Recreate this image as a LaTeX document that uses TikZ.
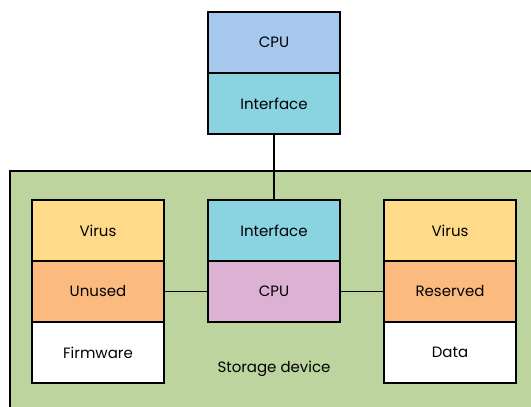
\documentclass[tikz,border=0pt]{standalone}
\usepackage{fontspec}
\setmainfont{Poppins}
\usetikzlibrary{positioning}
\definecolor{cpublue}{HTML}{A5C8EC}
\definecolor{ifcyan}{HTML}{8AD3E0}
\definecolor{virusyellow}{HTML}{FFDB89}
\definecolor{spareorange}{HTML}{FBBA7E}
\definecolor{devpink}{HTML}{DDB1D4}
\definecolor{storagegreen}{HTML}{BDD49E}
\begin{document}
\begin{tikzpicture}[x=1pt,y=-1pt,
  block/.style={draw=black,line width=1.1pt,outer sep=0pt,inner sep=0pt,
    minimum width=132pt,minimum height=61pt,font=\fontsize{15}{18}\selectfont},
  link/.style={line width=1.1pt}]
  \useasboundingbox (0,0) rectangle (531,407);
  % storage device
  \fill[storagegreen] (10,171) rectangle (545,420);
  \draw[link] (545,171) -- (10,171) -- (10,420);
  \node[font=\fontsize{15}{18}\selectfont] (storage) at (274,369) {Storage device};
  % host
  \node[block,fill=cpublue] (hostcpu) at (274,42.5) {CPU};
  \node[block,fill=ifcyan,below=0pt of hostcpu] (hostif) {Interface};
  % device controller
  \node[block,fill=ifcyan] (devif) at (274,230.5) {Interface};
  \node[block,fill=devpink,below=0pt of devif] (devcpu) {CPU};
  % left side
  \node[block,fill=virusyellow] (lvirus) at (98,230.5) {Virus};
  \node[block,fill=spareorange,below=0pt of lvirus] (unused) {Unused};
  \node[block,fill=white,below=0pt of unused] (firmware) {Firmware};
  % right side
  \node[block,fill=virusyellow] (rvirus) at (450,230.5) {Virus};
  \node[block,fill=spareorange,below=0pt of rvirus] (reserved) {Reserved};
  \node[block,fill=white,below=0pt of reserved] (data) {Data};
  \draw[link] (hostif) -- (devif);
  \draw[link] (unused) -- (devcpu);
  \draw[link] (devcpu) -- (reserved);
\end{tikzpicture}
\end{document}
